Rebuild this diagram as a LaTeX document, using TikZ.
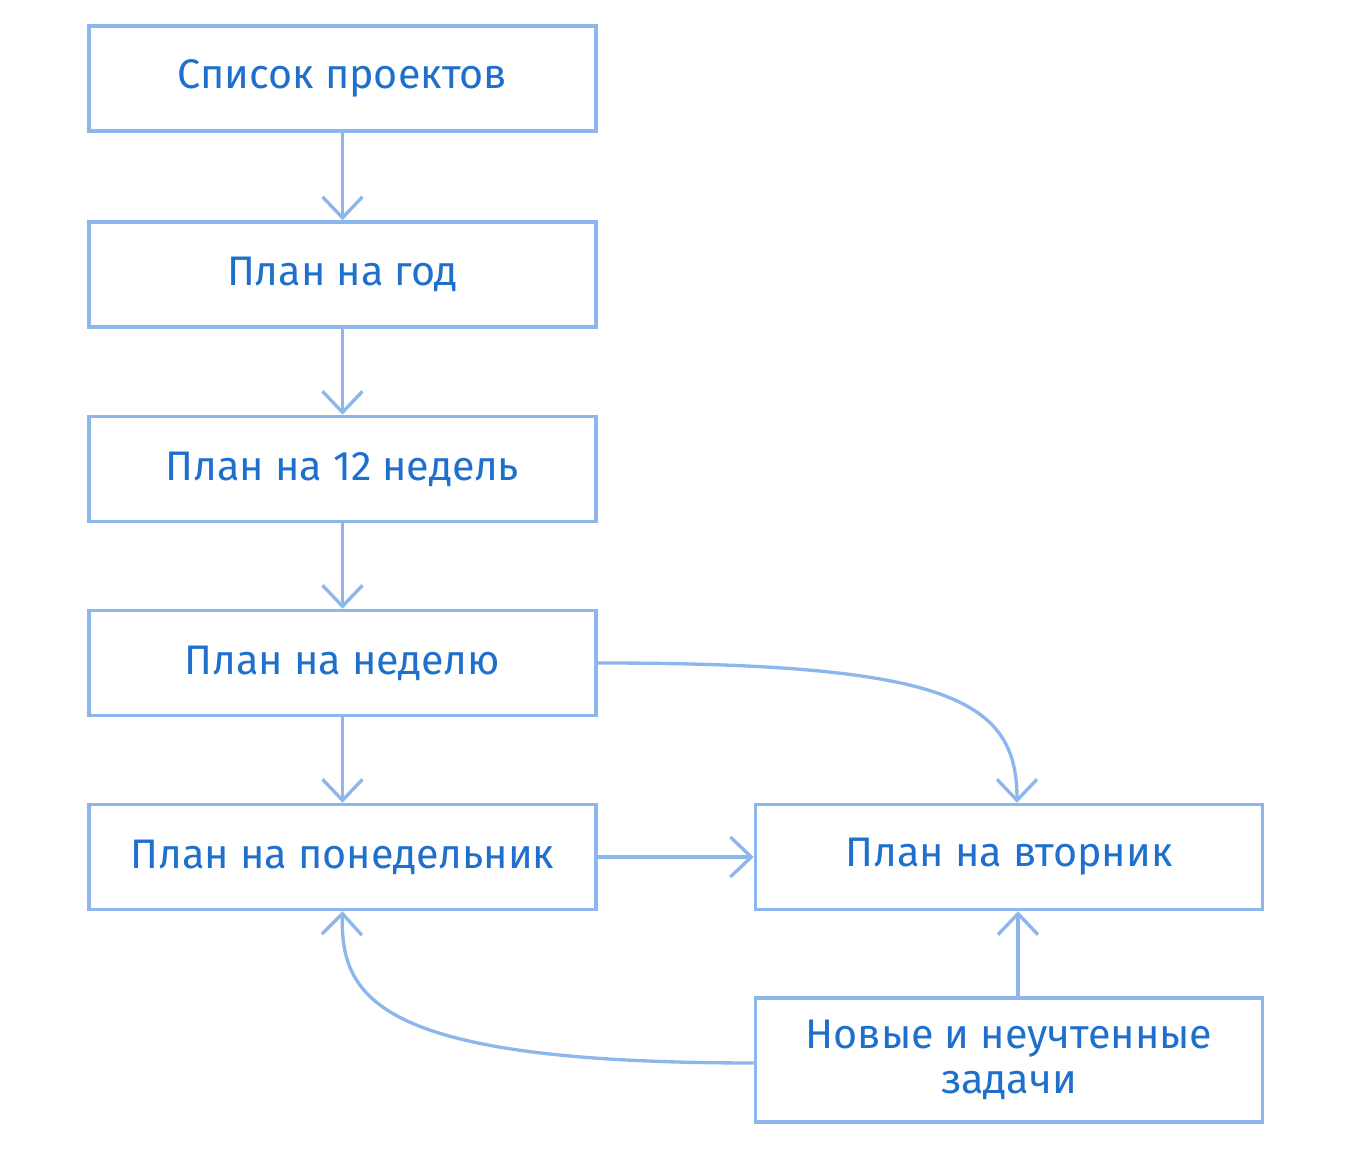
\documentclass[tikz,border=0pt]{standalone}
\usepackage{fontspec}
\setmainfont{Fira Sans}
\usepackage{tikz}
\usetikzlibrary{arrows.meta}
\usetikzlibrary{positioning}
\definecolor{linkblue}{HTML}{8DB7EC}
\definecolor{textblue}{HTML}{1F6FCC}
\tikzset{plan/.style = {draw = linkblue, line width = 2pt, fill = white,
                        minimum width = 10.14cm, minimum height = 2.1cm,
                        align = center, text = textblue,
                        font = \fontsize{23.5}{28}\selectfont}}
\tikzset{link/.style = {draw = linkblue, line width = 1.9pt,
                        -{Straight Barb[length = 0.42cm, width = 0.8cm, line width = 1.9pt]}}}

\begin{document}
\begin{tikzpicture}
    \useasboundingbox (0, 0) rectangle (27.04, 23.1);

    \node [plan] (projects) at (6.85, 21.53) {Список проектов};
    \node [plan] (year) at (6.85, 17.61) {План на год};
    \node [plan] (weeks) at (6.85, 13.72) {План на 12 недель};
    \node [plan] (week) at (6.85, 9.84) {План на неделю};
    \node [plan] (monday) at (6.85, 5.96) {План на понедельник};
    \node [plan] (tuesday) at (20.18, 5.96) {План на вторник};
    \node [plan, minimum height = 2.48cm] (extra) at (20.18, 1.9) {Новые и неучтенные\\[-2pt] задачи};

    \draw [link] (projects) -- (year);
    \draw [link] (year) -- (weeks);
    \draw [link] (weeks) -- (week);
    \draw [link] (week) -- (monday);
    \draw [link] (monday) -- (tuesday);
    \draw [link] (week.east) .. controls (19.0, 9.84) and (20.34, 9.1) .. ([xshift = 0.16cm] tuesday.north);
    \draw [link] ([xshift = 0.18cm] extra.north) -- ([xshift = 0.18cm] tuesday.south);
    \draw [link] (extra.west |- 0, 1.84) .. controls (7.6, 1.84) and (6.8, 3.1) .. (monday.south);
  \end{tikzpicture}
\end{document}
